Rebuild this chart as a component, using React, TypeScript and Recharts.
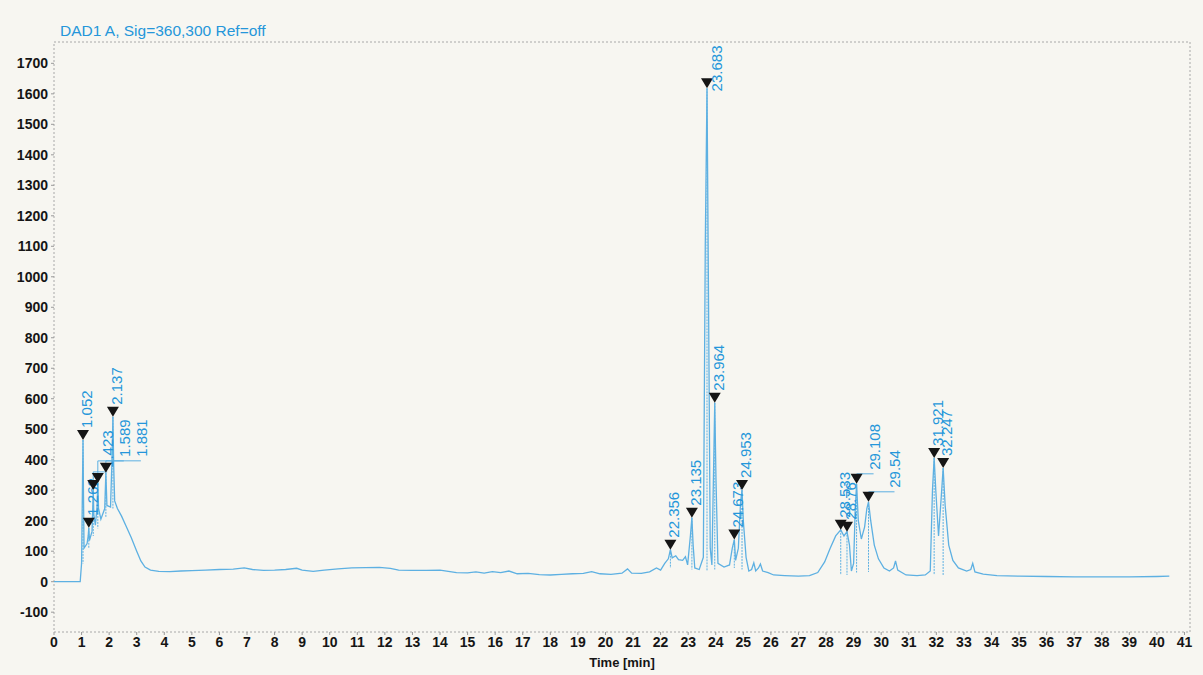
import React from 'react';
import { ComposedChart, Line, Scatter, XAxis, YAxis, ReferenceLine, ReferenceArea } from 'recharts';

// chromatogram trace (time in min, signal in mAU)
const TIME = [
  0, 0.5, 0.95, 1.0, 1.03, 1.052, 1.07, 1.09, 1.2, 1.24, 1.262, 1.285, 1.38, 1.405, 1.423, 1.445, 1.5, 1.565,
  1.589, 1.615, 1.7, 1.84, 1.881, 1.92, 2.05, 2.11, 2.137, 2.165, 2.2, 2.3, 2.45, 2.6, 2.8, 3.0, 3.15, 3.3,
  3.5, 3.8, 4.2, 4.6, 5.0, 5.5, 6.0, 6.5, 6.9, 7.2, 7.6, 8.0, 8.4, 8.8, 9.0, 9.4, 9.8, 10.3, 10.8, 11.3,
  11.8, 12.2, 12.5, 13.0, 13.5, 14.0, 14.3, 14.6, 15.0, 15.3, 15.6, 15.9, 16.2, 16.5, 16.8, 17.2, 17.6, 18.0,
  18.4, 18.8, 19.2, 19.5, 19.8, 20.2, 20.6, 20.8, 20.95, 21.3, 21.6, 21.85, 22.0, 22.15, 22.28, 22.356, 22.42,
  22.55, 22.65, 22.8, 22.9, 22.98, 23.08, 23.135, 23.18, 23.24, 23.4, 23.55, 23.62, 23.683, 23.74, 23.8,
  23.86, 23.92, 23.964, 24.01, 24.08, 24.3, 24.5, 24.6, 24.673, 24.72, 24.82, 24.9, 24.953, 25.0, 25.1, 25.2,
  25.3, 25.38, 25.45, 25.55, 25.62, 25.7, 25.9, 26.1, 26.5, 27.0, 27.4, 27.7, 27.95, 28.15, 28.35, 28.533,
  28.65, 28.76, 28.85, 28.92, 29.0, 29.06, 29.108, 29.17, 29.28, 29.4, 29.48, 29.54, 29.62, 29.75, 29.9, 30.1,
  30.3, 30.45, 30.52, 30.6, 30.9, 31.3, 31.6, 31.78, 31.86, 31.921, 31.98, 32.08, 32.18, 32.247, 32.32, 32.45,
  32.6, 32.8, 33.1, 33.25, 33.32, 33.4, 33.7, 34.2, 35.0, 36.0, 37.0, 38.0, 39.0, 40.0, 40.45,
];
const SIGNAL = [
  0, 0, 0, 60, 300, 465, 280, 110, 125, 150, 177, 135, 165, 240, 301, 220, 185, 250,
  324, 240, 205, 240, 357, 250, 245, 420, 541, 380, 265, 240, 215, 185, 145, 100, 68, 48,
  38, 34, 33, 35, 36, 38, 40, 41, 45, 40, 37, 38, 40, 44, 38, 34, 38, 42, 45, 46,
  47, 44, 38, 37, 37, 38, 34, 30, 29, 32, 28, 33, 30, 35, 26, 27, 23, 22,
  24, 26, 27, 33, 26, 24, 28, 42, 28, 27, 32, 45, 38, 60, 75, 105, 78,
  85, 72, 70, 82, 55, 150, 210, 120, 45, 40, 80, 1100, 1618, 900, 110,
  55, 360, 587, 330, 60, 48, 55, 110, 138, 70, 110, 260, 301, 200, 80, 35,
  40, 62, 35, 45, 58, 35, 30, 22, 20, 18, 20, 30, 65, 110, 150, 170,
  150, 164, 120, 35, 60, 240, 321, 200, 140, 180, 240, 262, 200, 120, 75, 45,
  35, 45, 68, 38, 22, 20, 22, 35, 300, 406, 300, 150, 280, 373, 250, 120,
  70, 45, 35, 40, 60, 32, 25, 20, 18, 17, 16, 16, 16, 17, 18,
];

const PEAK_TIMES = [1.052, 1.262, 1.423, 1.589, 1.881, 2.137, 22.356, 23.135, 23.683, 23.964, 24.673, 24.953, 28.533, 28.76, 29.108, 29.54, 31.921, 32.247];
const PEAK_LABELS = ['1.052', '1.262', '1.423', '1.589', '1.881', '2.137', '22.356', '23.135', '23.683', '23.964', '24.673', '24.953', '28.533', '28.76', '29.108', '29.54', '31.921', '32.247'];
const PEAK_HEIGHTS = [465, 177, 301, 324, 357, 541, 105, 210, 1618, 587, 138, 301, 170, 164, 321, 262, 406, 373];
const PEAK_BASES = [60, 110, 150, 175, 210, 240, 45, 40, 35, 40, 45, 40, 22, 22, 30, 32, 22, 22];

const X_TICKS = [0, 1, 2, 3, 4, 5, 6, 7, 8, 9, 10, 11, 12, 13, 14, 15, 16, 17, 18, 19, 20, 21, 22, 23, 24, 25, 26, 27, 28, 29, 30, 31, 32, 33, 34, 35, 36, 37, 38, 39, 40, 41];
const Y_TICKS = [-100, 0, 100, 200, 300, 400, 500, 600, 700, 800, 900, 1000, 1100, 1200, 1300, 1400, 1500, 1600, 1700];

const X_MAX = 41.2;
const Y_MIN = -165;
const Y_MAX = 1770;

const trace = TIME.map((t, i) => ({ t, v: SIGNAL[i] }));
const peaks = PEAK_TIMES.map((t, i) => ({ t, h: PEAK_HEIGHTS[i], base: PEAK_BASES[i], label: PEAK_LABELS[i] }));

const TRACE_BLUE = '#5db0e2';
const LABEL_BLUE = '#2596da';
const PLOT_TOP = 42;
const LABEL_FONT = 15;

// crowded labels are pushed sideways, like the ChemStation printout does
const LABEL_NUDGE: Record<string, { dx: number; dy: number }> = {
  '1.423': { dx: 20, dy: -22 },
  '1.589': { dx: 32, dy: -26 },
  '1.881': { dx: 41, dy: -16 },
  '29.108': { dx: 23, dy: -14 },
  '29.54': { dx: 32, dy: -14 },
};

const PeakMark = (props: any) => {
  const { cx, cy, payload } = props;
  if (cx == null || cy == null) return null;
  const nudge = LABEL_NUDGE[payload.label] || { dx: 9, dy: -12 };
  let tx = cx + nudge.dx;
  let ty = cy + nudge.dy;
  const textLen = payload.label.length * 7.9;
  if (ty - textLen < PLOT_TOP + 2) {
    ty = PLOT_TOP + 2 + textLen;
    tx = cx + 15;
  }
  const leader = nudge.dx > 12;
  return (
    <g>
      {leader && (
        <polyline
          points={`${cx},${cy - 10} ${cx},${ty + 4} ${tx - 6},${ty + 4}`}
          fill="none"
          stroke={TRACE_BLUE}
          strokeWidth={1}
        />
      )}
      <path d={`M${cx - 6},${cy - 10} L${cx + 6},${cy - 10} L${cx},${cy} Z`} fill="#151515" />
      <text
        x={tx}
        y={ty}
        transform={`rotate(-90 ${tx} ${ty})`}
        fill={LABEL_BLUE}
        fontSize={LABEL_FONT}
        fontFamily="'Liberation Sans', Arial, sans-serif"
      >
        {payload.label}
      </text>
    </g>
  );
};

const tickStyle = { fontSize: 14, fontWeight: 700, fill: '#151515', fontFamily: "'Liberation Sans', Arial, sans-serif" };

const App: React.FC = () => {
  return (
    <div style={{ position: 'absolute', left: 0, top: 0, width: 1203, height: 675, background: '#f7f6f1', overflow: 'hidden' }}>
      <div
        style={{
          position: 'absolute',
          left: 60,
          top: 22,
          color: LABEL_BLUE,
          fontSize: 15.5,
          lineHeight: '18px',
          fontFamily: "'Liberation Sans', Arial, sans-serif",
          whiteSpace: 'nowrap',
        }}
      >
        DAD1 A, Sig=360,300 Ref=off
      </div>
      <ComposedChart width={1203} height={675} margin={{ top: PLOT_TOP, right: 13, left: 0, bottom: 0 }}>
        <XAxis
          dataKey="t"
          type="number"
          domain={[0, X_MAX]}
          ticks={X_TICKS}
          allowDataOverflow
          axisLine={false}
          tickLine={{ stroke: '#9a9a9a' }}
          tickSize={3}
          tickMargin={2}
          interval={0}
          height={43}
          tick={tickStyle}
        />
        <YAxis
          type="number"
          domain={[Y_MIN, Y_MAX]}
          ticks={Y_TICKS}
          allowDataOverflow
          axisLine={false}
          tickLine={{ stroke: '#9a9a9a' }}
          tickSize={3}
          tickMargin={3}
          interval={0}
          width={54}
          tick={tickStyle}
        />
        <ReferenceArea
          x1={0}
          x2={X_MAX}
          y1={Y_MIN}
          y2={Y_MAX}
          fill="none"
          stroke="#a8a8a8"
          strokeDasharray="2 2"
          ifOverflow="visible"
        />
        {peaks.map((p) => (
          <ReferenceLine
            key={p.label}
            segment={[{ x: p.t, y: p.h }, { x: p.t, y: p.base }]}
            stroke={TRACE_BLUE}
            strokeDasharray="2 1"
            strokeWidth={1}
          />
        ))}
        <Line
          data={trace}
          dataKey="v"
          type="linear"
          stroke={TRACE_BLUE}
          strokeWidth={1.3}
          dot={false}
          activeDot={false}
          isAnimationActive={false}
        />
        <Scatter data={peaks} dataKey="h" shape={PeakMark} isAnimationActive={false} />
      </ComposedChart>
      <div
        style={{
          position: 'absolute',
          left: 0,
          width: 1244,
          top: 655,
          textAlign: 'center',
          fontSize: 13,
          fontWeight: 700,
          color: '#151515',
          fontFamily: "'Liberation Sans', Arial, sans-serif",
        }}
      >
        Time [min]
      </div>
    </div>
  );
};

export default App;
